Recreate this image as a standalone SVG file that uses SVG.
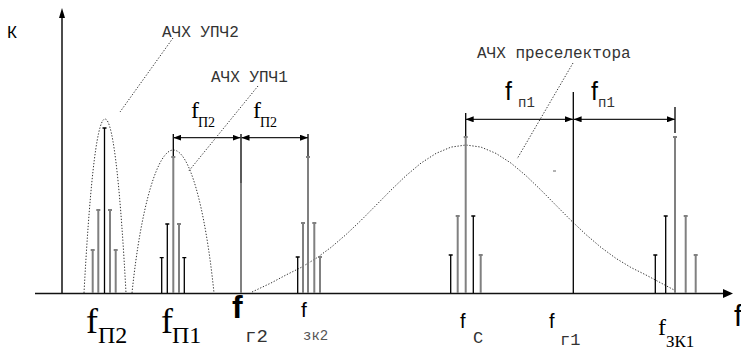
<svg xmlns="http://www.w3.org/2000/svg" width="741" height="350" viewBox="0 0 741 350">
<style>
.bk{stroke:#000;stroke-width:1.3;fill:none}
.gy{stroke:#808080;stroke-width:2;fill:none}
.dot{stroke:#333;stroke-width:1;fill:none;stroke-dasharray:1.3 1.7}
.dim{stroke:#222;stroke-width:1.3;fill:none;marker-start:url(#ah);marker-end:url(#ah)}
.ax{stroke:#111;stroke-width:1.5;fill:none}
.mono{font-family:"Liberation Mono","DejaVu Sans Mono",monospace;fill:#333}
.serif{font-family:"Liberation Serif","DejaVu Serif",serif;fill:#000}
.sans{font-family:"Liberation Sans","DejaVu Sans",sans-serif;fill:#000}
</style>
<defs>
<marker id="ah" viewBox="0 0 8 6" refX="8" refY="3" markerWidth="8" markerHeight="6" markerUnits="userSpaceOnUse" orient="auto-start-reverse">
<path d="M0,0 L8,3 L0,6 z" fill="#000"/>
</marker>
</defs>
<rect width="741" height="350" fill="#fff"/>

<g id="axes">
<path class="ax" d="M62,293.5 V16"/>
<polygon points="62,8 59,18 65,18" fill="#000"/>
<path class="ax" d="M35,293.5 H724"/>
<polygon points="733,293.5 723,289 723,298" fill="#000"/>
<text class="sans" x="7" y="38" font-size="17">К</text>
<text class="sans" x="734" y="326" font-size="30">f</text>
</g>

<g id="curves">
<path id="bell-upch2" class="dot" d="M84,293 C89,200 96,119 105,119 C114,119 121,200 126,293"/>
<path id="bell-upch1" class="dot" d="M132,293 C141,205 158,150 173.3,150 C189,150 205,205 214,293"/>
<polyline id="bell-presel" class="dot" points="252,292 271,283 286,275 301,267.5 316,258.4 331,247.4 346,234.6 361,220.4 376,205.3 391,190.1 406,175.7 421,163.1 436,153.4 451,147.1 466,145 481,147.1 496,153.4 511,163.1 526,175.7 541,190.1 556,205.3 571,220.4 586,234.6 601,247.4 616,258.4 631,267.5 646,275 661,283 676,291"/>
</g>

<g id="spec-p2">
<path class="gy" d="M92.7,293V250M90.7,250H94.7"/>
<path class="gy" d="M98.3,293V210M96.3,210H100.3"/>
<path class="bk" d="M104.5,293V128M102.5,128H106.5"/>
<path class="gy" d="M110,293V210M108,210H112"/>
<path class="gy" d="M115.7,293V250M113.7,250H117.7"/>
<text class="serif" x="86" y="333" font-size="36">f</text>
<text class="serif" x="98" y="343" font-size="24">П2</text>
</g>

<g id="spec-p1">
<path class="bk" d="M161.7,293V257.7M159.7,257.7H163.7"/>
<path class="bk" d="M167.3,293V224M165.3,224H169.3"/>
<path class="bk" d="M173.3,157V134"/>
<path class="gy" d="M173.3,293V157M171.3,157H175.3"/>
<path class="gy" d="M179,293V224M177,224H181"/>
<path class="bk" d="M184.3,293V257.7M182.3,257.7H186.3"/>
<text class="serif" x="161" y="333" font-size="36">f</text>
<text class="serif" x="172" y="343" font-size="24">П1</text>
</g>

<g id="f-g2">
<path class="bk" d="M241,183V134"/>
<path class="gy" d="M241,293V183"/>
<text class="sans" x="232" y="318" font-size="32" font-weight="bold">f</text>
<text class="mono" x="245" y="342" font-size="19" fill="#222">г2</text>
</g>

<g id="spec-zk2">
<path class="bk" d="M297.7,293V257M295.7,257H299.7"/>
<path class="gy" d="M303,293V223M301,223H305"/>
<path class="bk" d="M308,157V134"/>
<path class="gy" d="M308,293V157M306,157H310"/>
<path class="gy" d="M314.3,293V223M312.3,223H316.3"/>
<path class="gy" d="M320,293V257M318,257H322"/>
<text class="sans" x="301" y="317" font-size="21">f</text>
<text class="mono" x="303" y="340" font-size="14" style="fill:#555">зк2</text>
</g>

<g id="spec-c">
<path class="bk" d="M450.7,293V255M448.7,255H452.7"/>
<path class="gy" d="M457.7,293V216M455.7,216H459.7"/>
<path class="bk" d="M465.7,137V113"/>
<path class="gy" d="M465.7,293V137M463.7,137H467.7"/>
<path class="bk" d="M473.3,293V216M471.3,216H475.3"/>
<path class="gy" d="M480.7,293V255M478.7,255H482.7"/>
<text class="sans" x="460" y="328" font-size="20">f</text>
<text class="mono" x="473" y="343" font-size="17">С</text>
</g>

<g id="f-g1">
<path class="bk" d="M573.3,293V92"/>
<text class="sans" x="549" y="328" font-size="20">f</text>
<text class="mono" x="560" y="345" font-size="17">г1</text>
</g>

<g id="spec-zk1">
<path class="bk" d="M655.3,293V255M653.3,255H657.3"/>
<path class="bk" d="M665.7,293V216M663.7,216H667.7"/>
<path class="bk" d="M675,133V107"/>
<path class="gy" d="M675,293V137M673,137H677"/>
<path class="gy" d="M685.7,293V216M683.7,216H687.7"/>
<path class="gy" d="M695.7,293V255M693.7,255H697.7"/>
<text class="serif" x="658" y="335" font-size="24">f</text>
<text class="serif" x="666" y="347" font-size="17">ЗК1</text>
</g>

<g id="labels">
<text class="mono" x="162" y="37" font-size="16">АЧХ УПЧ2</text>
<text class="mono" x="211" y="82" font-size="16">АЧХ УПЧ1</text>
<text class="mono" x="477" y="58" font-size="16">АЧХ преселектора</text>
<text class="serif" x="191" y="118" font-size="24">f</text>
<text class="serif" x="198" y="127" font-size="14">П2</text>
<text class="serif" x="253" y="118" font-size="24">f</text>
<text class="serif" x="260" y="127" font-size="14">П2</text>
<text class="sans" x="505" y="100" font-size="25">f</text>
<text class="mono" x="518" y="107" font-size="14">п1</text>
<text class="sans" x="591" y="100" font-size="25">f</text>
<text class="mono" x="598" y="107" font-size="14">п1</text>
</g>

<g id="connectors">
<path class="dot" d="M173,38 L120,112"/>
<path class="dot" d="M258,86 L188,172"/>
<path class="dot" d="M573,63 L517,159"/>
<path class="dim" d="M173.3,137.7 H240.5"/>
<path class="dim" d="M241.5,137.7 H308"/>
<path class="dim" d="M465.7,119.3 H573"/>
<path class="dim" d="M573.6,119.3 H675"/>
<path d="M553,171 H556" stroke="#666" stroke-width="1"/>
</g>
</svg>
